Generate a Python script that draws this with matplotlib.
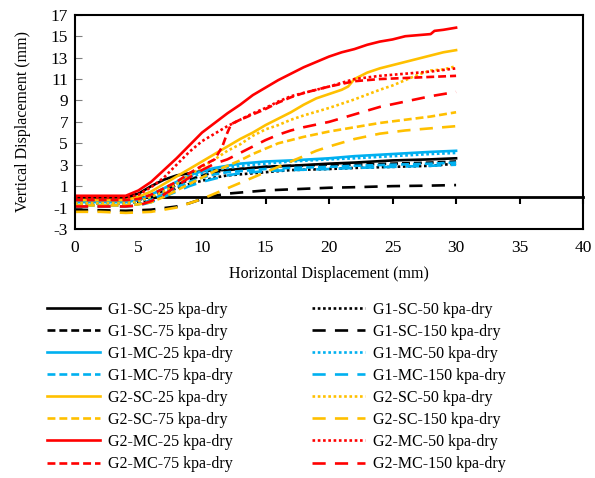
import matplotlib
matplotlib.use("Agg")
import matplotlib.pyplot as plt

plt.rcParams['font.family'] = ['Liberation Serif', 'DejaVu Serif']
plt.rcParams['axes.unicode_minus'] = False

# ---- data (x = horizontal, y = vertical displacement, mm)
g1_sc_25_x = [0, 4, 5, 6, 7, 8, 9, 10, 11, 12, 13, 15, 17, 20, 22, 25, 28, 30]
g1_sc_25_y = [0.0, 0.0, 0.3, 1.0, 1.6, 2.0, 2.2, 2.4, 2.5, 2.5, 2.6, 2.8, 2.9, 3.1, 3.2, 3.4, 3.5, 3.6]

g1_sc_50_x = [0, 4, 5, 6, 7, 8, 9, 10, 11, 12, 13, 15, 17, 20, 22, 25, 28, 30]
g1_sc_50_y = [-0.6, -0.6, -0.5, -0.2, 0.3, 0.8, 1.2, 1.5, 1.8, 2.0, 2.1, 2.3, 2.5, 2.6, 2.7, 2.8, 2.9, 3.1]

g1_sc_75_x = [0, 4, 5, 6, 7, 8, 9, 10, 11, 12, 13, 15, 17, 20, 22, 25, 28, 30]
g1_sc_75_y = [-0.4, -0.4, -0.3, 0.1, 0.6, 1.1, 1.6, 2.0, 2.3, 2.5, 2.6, 2.8, 2.9, 3.0, 3.0, 3.1, 3.2, 3.3]

g1_sc_150_x = [0, 4, 6, 8, 9, 10, 11, 12, 13, 15, 17, 20, 22, 25, 28, 30]
g1_sc_150_y = [-1.2, -1.3, -1.2, -0.9, -0.6, -0.2, 0.1, 0.3, 0.4, 0.6, 0.7, 0.85, 0.9, 1.0, 1.05, 1.1]

g1_mc_25_x = [0, 4, 5, 6, 7, 8, 9, 10, 11, 12, 13, 14, 15, 17, 20, 22, 25, 28, 30]
g1_mc_25_y = [-0.5, -0.5, -0.3, 0.2, 0.8, 1.4, 2.0, 2.4, 2.7, 2.9, 3.1, 3.2, 3.3, 3.4, 3.6, 3.8, 4.0, 4.2, 4.3]

g1_mc_50_x = [0, 4, 5, 6, 7, 8, 9, 10, 11, 12, 13, 15, 17, 20, 22, 25, 28, 30]
g1_mc_50_y = [-0.6, -0.6, -0.5, 0.0, 0.6, 1.2, 1.8, 2.2, 2.5, 2.7, 2.9, 3.1, 3.3, 3.5, 3.6, 3.8, 4.0, 4.1]

g1_mc_75_x = [0, 4, 5, 6, 7, 8, 9, 10, 11, 12, 13, 15, 17, 20, 22, 25, 28, 30]
g1_mc_75_y = [-0.8, -0.8, -0.7, -0.3, 0.3, 0.9, 1.4, 1.8, 2.1, 2.3, 2.4, 2.6, 2.7, 2.8, 2.9, 3.0, 3.1, 3.2]

g1_mc_150_x = [0, 4, 5, 6, 7, 8, 9, 10, 11, 12, 13, 15, 17, 20, 22, 25, 28, 30]
g1_mc_150_y = [-0.9, -0.9, -0.8, -0.5, 0.0, 0.5, 1.0, 1.4, 1.7, 2.0, 2.2, 2.4, 2.5, 2.6, 2.7, 2.8, 2.9, 3.0]

g2_sc_25_x = [0, 4, 5, 6, 7, 8, 9, 10, 11, 12, 13, 14, 15, 16, 17, 18, 19, 20, 21, 21.5,
              22, 23, 24, 25, 26, 27, 28, 29, 30]
g2_sc_25_y = [-0.3, -0.3, 0.0, 0.5, 1.2, 1.9, 2.6, 3.3, 4.0, 4.7, 5.4, 6.0, 6.7, 7.3, 7.9, 8.6, 9.2, 9.6, 10.0, 10.3,
              11.0, 11.6, 12.0, 12.3, 12.6, 12.9, 13.2, 13.5, 13.7]

g2_sc_50_x = [0, 4, 5, 6, 7, 8, 9, 10, 11, 12, 13, 14, 15, 16, 17, 18, 20, 22, 24, 25, 26, 27, 28, 29, 30]
g2_sc_50_y = [-0.6, -0.6, -0.4, 0.0, 0.5, 1.2, 2.0, 2.8, 3.5, 4.3, 4.9, 5.7, 6.3, 6.7, 7.2, 7.6, 8.3, 9.1,
              10.0, 10.4, 10.9, 11.4, 11.8, 11.9, 12.2]

g2_sc_75_x = [0, 4, 5, 6, 7, 8, 9, 10, 11, 12, 13, 14, 15, 16, 17, 18, 20, 22, 24, 26, 28, 30]
g2_sc_75_y = [-0.8, -0.8, -0.7, -0.5, 0.0, 0.6, 1.2, 1.8, 2.4, 2.9, 3.4, 4.0, 4.5, 5.0, 5.3, 5.6, 6.1, 6.5,
              6.9, 7.2, 7.5, 7.9]

g2_sc_150_x = [0, 2, 4, 6, 8, 9, 10, 11, 12, 13, 14, 15, 16, 17, 18, 19, 20, 22, 24, 26, 28, 30]
g2_sc_150_y = [-1.4, -1.4, -1.5, -1.4, -1.0, -0.6, -0.2, 0.3, 0.8, 1.3, 1.8, 2.3, 2.8, 3.3, 3.8, 4.3, 4.7, 5.4,
               5.9, 6.2, 6.4, 6.6]

g2_mc_25_x = [0, 4, 5, 6, 7, 8, 9, 10, 11, 12, 13, 14, 15, 16, 17, 18, 19, 20, 21, 22, 23, 24, 25, 26,
              27, 28, 28.3, 29, 30]
g2_mc_25_y = [0.1, 0.1, 0.6, 1.4, 2.5, 3.6, 4.8, 6.0, 6.9, 7.8, 8.6, 9.5, 10.2, 10.9, 11.5, 12.1, 12.6,
              13.1, 13.5, 13.8, 14.2, 14.5, 14.7, 15.0, 15.1, 15.2, 15.5, 15.6, 15.8]

g2_mc_50_x = [0, 4, 5, 6, 7, 8, 9, 10, 11, 12, 13, 14, 15, 16, 17, 18, 20, 22, 24, 26, 28, 30]
g2_mc_50_y = [-0.1, -0.1, 0.2, 0.9, 1.8, 3.0, 4.2, 5.2, 5.9, 6.6, 7.2, 7.8, 8.3, 8.9, 9.4, 9.7, 10.3,
              11.0, 11.3, 11.5, 11.7, 12.0]

g2_mc_75_x = [0, 4, 5, 6, 7, 8, 9, 10, 11, 11.6, 12, 12.3, 13, 14, 15, 16, 17, 18, 20, 22, 24, 26, 28, 30]
g2_mc_75_y = [-0.3, -0.3, -0.2, 0.2, 0.8, 1.4, 2.2, 2.9, 3.5, 4.7, 6.0, 6.8, 7.2, 7.7, 8.2, 8.8, 9.3, 9.7,
              10.3, 10.8, 11.0, 11.1, 11.2, 11.3]

g2_mc_150_x = [0, 4, 5, 6, 7, 8, 9, 10, 11, 12, 13, 14, 15, 16, 17, 18, 20, 22, 24, 26, 28, 30]
g2_mc_150_y = [-0.9, -0.9, -0.8, -0.4, 0.2, 1.0, 1.8, 2.5, 3.1, 3.5, 4.1, 4.7, 5.3, 5.8, 6.2, 6.5, 7.0,
               7.7, 8.4, 8.9, 9.4, 9.8]

BLACK = "black"
BLUE = "#00B0F0"
ORANGE = "#FFC000"
RED = "#FF0000"

solid = "-"
dotted = (0, (1, 1))
short_dash = (0, (3, 1.5))
long_dash = (0, (5, 3.5))

series = [
    ("G1-SC-25 kpa-dry", g1_sc_25_x, g1_sc_25_y, BLACK, solid),
    ("G1-SC-50 kpa-dry", g1_sc_50_x, g1_sc_50_y, BLACK, dotted),
    ("G1-SC-75 kpa-dry", g1_sc_75_x, g1_sc_75_y, BLACK, short_dash),
    ("G1-SC-150 kpa-dry", g1_sc_150_x, g1_sc_150_y, BLACK, long_dash),
    ("G1-MC-25 kpa-dry", g1_mc_25_x, g1_mc_25_y, BLUE, solid),
    ("G1-MC-50 kpa-dry", g1_mc_50_x, g1_mc_50_y, BLUE, dotted),
    ("G1-MC-75 kpa-dry", g1_mc_75_x, g1_mc_75_y, BLUE, short_dash),
    ("G1-MC-150 kpa-dry", g1_mc_150_x, g1_mc_150_y, BLUE, long_dash),
    ("G2-SC-25 kpa-dry", g2_sc_25_x, g2_sc_25_y, ORANGE, solid),
    ("G2-SC-50 kpa-dry", g2_sc_50_x, g2_sc_50_y, ORANGE, dotted),
    ("G2-SC-75 kpa-dry", g2_sc_75_x, g2_sc_75_y, ORANGE, short_dash),
    ("G2-SC-150 kpa-dry", g2_sc_150_x, g2_sc_150_y, ORANGE, long_dash),
    ("G2-MC-25 kpa-dry", g2_mc_25_x, g2_mc_25_y, RED, solid),
    ("G2-MC-50 kpa-dry", g2_mc_50_x, g2_mc_50_y, RED, dotted),
    ("G2-MC-75 kpa-dry", g2_mc_75_x, g2_mc_75_y, RED, short_dash),
    ("G2-MC-150 kpa-dry", g2_mc_150_x, g2_mc_150_y, RED, long_dash),
]

fig = plt.figure(figsize=(5.95, 4.78), dpi=100)
ax = fig.add_axes([0.126, 0.521, 0.854, 0.448])

handles = {}
for label, xs, ys, col, ls in series:
    h, = ax.plot(xs, ys, color=col, linestyle=ls, linewidth=1.9, label=label)
    handles[label] = h

ax.set_xlim(0, 40)
ax.set_ylim(-3, 17)
ax.set_xticks(range(0, 41, 5))
ax.set_yticks(range(-3, 18, 2))
ax.tick_params(axis='x', length=0, pad=8, labelsize=12.5)
ax.tick_params(axis='y', direction='in', length=5, color='gray', labelsize=12.5, pad=5)
for s in ax.spines.values():
    s.set_linewidth(1.5)

# x axis crossing at y = 0 (Excel style)
xa = ax.secondary_xaxis(3 / 20)
xa.set_xticks(range(0, 41, 5))
xa.set_xticklabels([])
xa.tick_params(direction='out', length=5, width=1.5, color='black')
xa.spines['bottom'].set_linewidth(2.0)

ax.set_xlabel("Horizontal Displacement (mm)", fontsize=11.5, labelpad=7)
ax.set_ylabel("Vertical Displacement (mm)", fontsize=11.5, labelpad=14)

left_col = ["G1-SC-25", "G1-SC-75", "G1-MC-25", "G1-MC-75",
            "G2-SC-25", "G2-SC-75", "G2-MC-25", "G2-MC-75"]
right_col = ["G1-SC-50", "G1-SC-150", "G1-MC-50", "G1-MC-150",
             "G2-SC-50", "G2-SC-150", "G2-MC-50", "G2-MC-150"]
order = [n + " kpa-dry" for n in left_col + right_col]
fig.legend([handles[n] for n in order], order, loc='upper left',
           bbox_to_anchor=(0.079, 0.369), ncol=2, frameon=False, fontsize=11.5,
           handlelength=3.3, handletextpad=0.5, columnspacing=5.0,
           labelspacing=0.38, borderpad=0, borderaxespad=0)

fig.savefig("out.png", dpi=100)
